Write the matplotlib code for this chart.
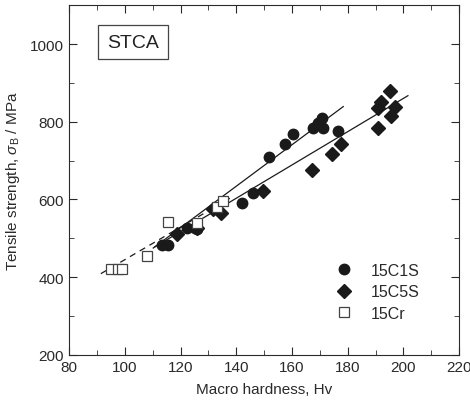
import numpy as np
import matplotlib.pyplot as plt
from matplotlib.ticker import MultipleLocator

# 15C1S (filled circles)
hv_c1s = [113.4, 115.5, 122.2, 125.2, 126.0, 141.9, 145.9, 151.9, 157.5, 160.5,
          167.5, 169.5, 170.8, 171.0, 176.4]
ts_c1s = [482, 484, 527, 527, 525, 592, 617, 708, 742, 769,
          783, 797, 809, 783, 775]

# 15C5S (filled diamonds)
hv_c5s = [118.6, 126.0, 131.5, 134.4, 149.7, 167.3, 174.3, 177.5,
          190.8, 190.8, 192.0, 195.0, 195.6, 197.0]
ts_c5s = [512, 527, 575, 564, 622, 677, 718, 743,
          783, 835, 852, 878, 816, 837]

# 15Cr (open squares)
hv_cr = [95.0, 97.5, 99.0, 108.0, 115.6, 126.0, 133.0, 135.3]
ts_cr = [422, 422, 422, 455, 542, 540, 581, 597]

# regression lines (end points)
fit_c1s_x = [110.2, 178.4]
fit_c1s_y = [475, 839]
fit_c5s_x = [110.8, 201.6]
fit_c5s_y = [478, 867]
fit_cr_x = [91.4, 137.7]
fit_cr_y = [409, 603]

plt.rcParams['font.family'] = ['Liberation Sans', 'DejaVu Sans']
plt.rcParams['mathtext.fontset'] = 'custom'
plt.rcParams['mathtext.it'] = 'Liberation Sans:italic'
plt.rcParams['mathtext.rm'] = 'Liberation Sans'

fig = plt.figure(figsize=(4.70, 4.10), dpi=100)
ax = fig.add_axes([0.147, 0.132, 0.830, 0.853])

ax.plot(fit_c1s_x, fit_c1s_y, color='#1a1a1a', lw=0.9)
ax.plot(fit_c5s_x, fit_c5s_y, color='#1a1a1a', lw=0.9)
ax.plot(fit_cr_x, fit_cr_y, color='#1a1a1a', lw=0.9, ls=(0, (5, 4)))

ax.plot(hv_c1s, ts_c1s, 'o', color='#1a1a1a', ms=7.5, ls='none', label='15C1S')
ax.plot(hv_c5s, ts_c5s, 'D', color='#1a1a1a', ms=6.8, ls='none', label='15C5S')
ax.plot(hv_cr, ts_cr, 's', mfc='white', mec='#444444', mew=0.9, ms=7, ls='none', label='15Cr')

ax.set_xlim(80, 220)
ax.set_ylim(200, 1100)
ax.xaxis.set_major_locator(MultipleLocator(20))
ax.xaxis.set_minor_locator(MultipleLocator(10))
ax.yaxis.set_major_locator(MultipleLocator(200))
ax.yaxis.set_minor_locator(MultipleLocator(100))
ax.set_yticks([200, 400, 600, 800, 1000])
ax.tick_params(which='both', direction='in', top=True, right=True, labelsize=11, colors='#2a2a2a')
ax.tick_params(which='major', length=6)
ax.tick_params(which='minor', length=3.5)
for s in ax.spines.values():
    s.set_color('#2a2a2a')

ax.set_xlabel('Macro hardness, Hv', fontsize=11, color='#2a2a2a', labelpad=6)
ax.set_ylabel(r'Tensile strength, $\sigma_{\mathrm{B}}$ / MPa', fontsize=11, color='#2a2a2a',
              labelpad=6)

ax.text(0.164, 0.894, 'STCA', transform=ax.transAxes, fontsize=14, color='#222222',
        ha='center', va='center',
        bbox=dict(boxstyle='square,pad=0.45', fc='white', ec='#444444', lw=0.9))

leg = ax.legend(loc='lower right', bbox_to_anchor=(0.92, 0.075), frameon=False,
                fontsize=11.5, handletextpad=0.7, labelspacing=0.4, borderpad=0)
for t in leg.get_texts():
    t.set_color('#2a2a2a')

fig.savefig('out.png', dpi=100)
